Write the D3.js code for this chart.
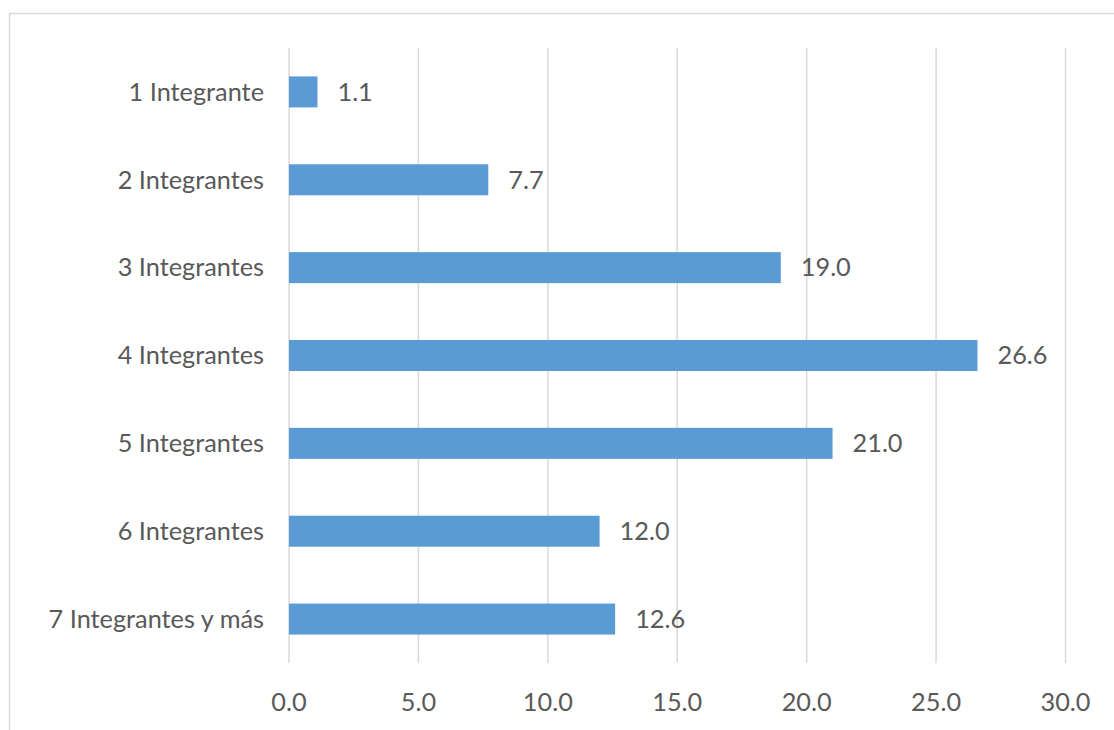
<!DOCTYPE html>
<html><head><meta charset="utf-8">
<script src="https://cdn.jsdelivr.net/npm/d3@7"></script>
<style>body{margin:0;background:#fff;} svg{display:block;}</style>
</head><body>
<script>
const categories = ["1 Integrante","2 Integrantes","3 Integrantes","4 Integrantes","5 Integrantes","6 Integrantes","7 Integrantes y más"];
const values = [1.1, 7.7, 19.0, 26.6, 21.0, 12.0, 12.6];
const xTicks = [0,5,10,15,20,25,30];

const W = 1114, H = 730;
const svg = d3.select("body").append("svg").attr("width", W).attr("height", H);
const font = "Lato, 'Open Sans', sans-serif";
const fs = 25.3;
const txt = "#595959";

svg.append("rect").attr("x", 9.5).attr("y", 13.5).attr("width", 1120).attr("height", 740)
  .attr("fill", "#fff").attr("stroke", "#d9d9d9").attr("stroke-width", 1.5);

const x = d3.scaleLinear().domain([0, 30]).range([289, 1065.5]);
const y = d3.scaleBand().domain(categories).range([48, 663]).paddingInner(0.647).paddingOuter(0.3235);

svg.append("g").selectAll("line").data(xTicks).join("line")
  .attr("x1", d => x(d)).attr("x2", d => x(d)).attr("y1", 48).attr("y2", 663)
  .attr("stroke", "#d9d9d9").attr("stroke-width", 1.5);

svg.append("g").selectAll("rect").data(values).join("rect")
  .attr("x", x(0)).attr("y", (d,i) => y(categories[i]))
  .attr("width", d => x(d) - x(0)).attr("height", y.bandwidth())
  .attr("fill", "#5B9BD5");

svg.append("g").selectAll("text").data(values).join("text")
  .attr("x", d => x(d) + 20).attr("y", (d,i) => y(categories[i]) + y.bandwidth()/2)
  .attr("dy", "0.35em").attr("font-family", font).attr("font-size", fs).attr("fill", txt)
  .text(d => d.toFixed(1));

svg.append("g").selectAll("text").data(categories).join("text")
  .attr("x", 264).attr("y", d => y(d) + y.bandwidth()/2).attr("dy", "0.35em")
  .attr("text-anchor", "end").attr("font-family", font).attr("font-size", fs).attr("fill", txt)
  .text(d => d);

svg.append("g").selectAll("text").data(xTicks).join("text")
  .attr("x", d => x(d)).attr("y", 702).attr("dy", "0.35em").attr("text-anchor", "middle")
  .attr("font-family", font).attr("font-size", fs).attr("fill", txt)
  .text(d => d.toFixed(1));
</script>
</body></html>
